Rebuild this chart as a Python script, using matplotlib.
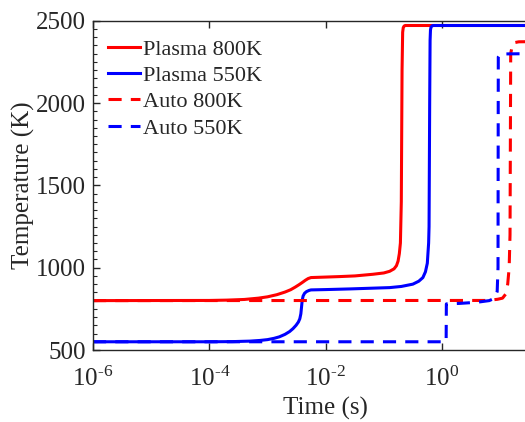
import matplotlib
matplotlib.use("Agg")
import matplotlib.pyplot as plt
from matplotlib.ticker import FixedLocator, MultipleLocator, FuncFormatter, NullLocator
import math

plt.rcParams['font.family'] = ['Liberation Serif', 'DejaVu Serif']
plt.rcParams['mathtext.fontset'] = 'custom'
plt.rcParams['mathtext.rm'] = 'Liberation Serif'
plt.rcParams['mathtext.it'] = 'Liberation Serif:italic'
plt.rcParams['mathtext.bf'] = 'Liberation Serif:bold'

# ---- data (time in s, temperature in K) ----
plasma800_t = [1e-6, 1e-4, 2e-4, 4e-4, 7e-4, 1e-3, 1.45e-3, 2e-3, 2.5e-3, 3e-3,
               3.5e-3, 4e-3, 4.5e-3, 5e-3, 5.6e-3, 1e-2, 1.75e-2, 3.2e-2, 6.5e-2, 0.1,
               0.126, 0.15, 0.165, 0.176, 0.185, 0.193, 0.2, 0.206, 0.211, 0.216,
               0.224, 0.234, 100]
plasma800_T = [800, 801, 803, 807, 815, 823, 836, 852, 866, 882,
               897, 911, 924, 934, 940, 943, 946, 950, 960, 968,
               978, 993, 1012, 1040, 1085, 1150, 1400, 2200, 2430, 2458,
               2468, 2471, 2471]

plasma550_t = [1e-6, 1e-4, 2.5e-4, 5e-4, 7.4e-4, 1e-3, 1.3e-3, 1.6e-3, 2e-3, 2.4e-3,
               2.75e-3, 3.1e-3, 3.4e-3, 3.6e-3, 3.75e-3, 3.85e-3, 3.95e-3, 4.1e-3, 4.35e-3, 4.7e-3,
               5.2e-3, 5.6e-3, 1e-2, 2.6e-2, 0.126, 0.2, 0.316, 0.4, 0.47, 0.52,
               0.56, 0.59, 0.6, 0.615, 0.625, 0.635, 0.65, 0.68, 0.71, 100]
plasma550_T = [550, 550, 551, 554, 558, 563, 571, 580, 595, 612,
               630, 650, 670, 690, 720, 760, 800, 828, 845, 855,
               862, 865, 867, 871, 879, 886, 900, 918, 940, 975,
               1027, 1150, 1250, 2000, 2380, 2445, 2462, 2469, 2471, 2471]

auto800_t = [1e-6, 6, 9, 11, 12.5, 13.5, 14.3, 14.8, 15.2, 16.5, 21, 100]
auto800_T = [800, 801, 808, 815, 840, 900, 1000, 1200, 2300, 2365, 2372, 2375]

auto550_t = [1e-6, 1.18, 1.19, 2, 4, 6.5, 8, 8.9, 9.2, 9.3, 10, 100]
auto550_T = [550, 550, 780, 783, 790, 800, 814, 855, 1000, 2280, 2298, 2302]

labels = ['Plasma 800K', 'Plasma 550K', 'Auto 800K', 'Auto 550K']
x_ticks = [1e-6, 1e-4, 1e-2, 1e0]
y_ticks = [500, 1000, 1500, 2000, 2500]

# ---- figure ----
fig = plt.figure(figsize=(5.25, 4.22), dpi=100)
ax = fig.add_axes([0.1771, 0.1706, 0.8863, 0.7803])

lw = 2.2
dash = (4.3, 3.0)
ax.plot(plasma800_t, plasma800_T, color=(1, 0, 0), lw=lw, label=labels[0])
ax.plot(plasma550_t, plasma550_T, color=(0, 0, 1), lw=lw, label=labels[1])
ax.plot(auto800_t, auto800_T, color=(1, 0, 0), lw=lw, ls=(0, dash), label=labels[2])
ax.plot(auto550_t, auto550_T, color=(0, 0, 1), lw=lw, ls=(0, dash), label=labels[3])

ax.set_xscale('log')
ax.set_xlim(1e-6, 1e2)
ax.set_ylim(500, 2500)
ax.xaxis.set_major_locator(FixedLocator(x_ticks))
ax.xaxis.set_minor_locator(NullLocator())


def fmt(v, pos):
    e = int(round(math.log10(v)))
    if e < 0:
        return r'$\mathregular{10^{\text{-}%d}}$' % (-e)
    return r'$\mathregular{10^{%d}}$' % e


ax.xaxis.set_major_formatter(FuncFormatter(fmt))
ax.yaxis.set_major_locator(FixedLocator(y_ticks))
ax.yaxis.set_minor_locator(MultipleLocator(50))

spine_col = '#262626'
for s in ax.spines.values():
    s.set_color(spine_col)
    s.set_linewidth(1.0)

ax.tick_params(which='both', direction='in', top=True, right=True, colors=spine_col,
               labelcolor='#262626', labelsize=18)
ax.tick_params(which='major', length=5, width=1.0)
ax.tick_params(which='minor', length=3, width=0.8)
ax.tick_params(axis='x', pad=12)
ax.tick_params(axis='y', pad=5)

ax.set_xlabel('Time (s)', fontsize=18, color='#262626', labelpad=4)
ax.set_ylabel('Temperature (K)', fontsize=18, color='#262626', labelpad=1)

leg = ax.legend(loc='upper left', frameon=False, fontsize=16, handlelength=1.45,
                handletextpad=0.15, labelspacing=0.26, borderaxespad=0.2,
                bbox_to_anchor=(0.003, 0.985))
for t in leg.get_texts():
    t.set_color('#262626')

fig.savefig('out.png', dpi=100)
